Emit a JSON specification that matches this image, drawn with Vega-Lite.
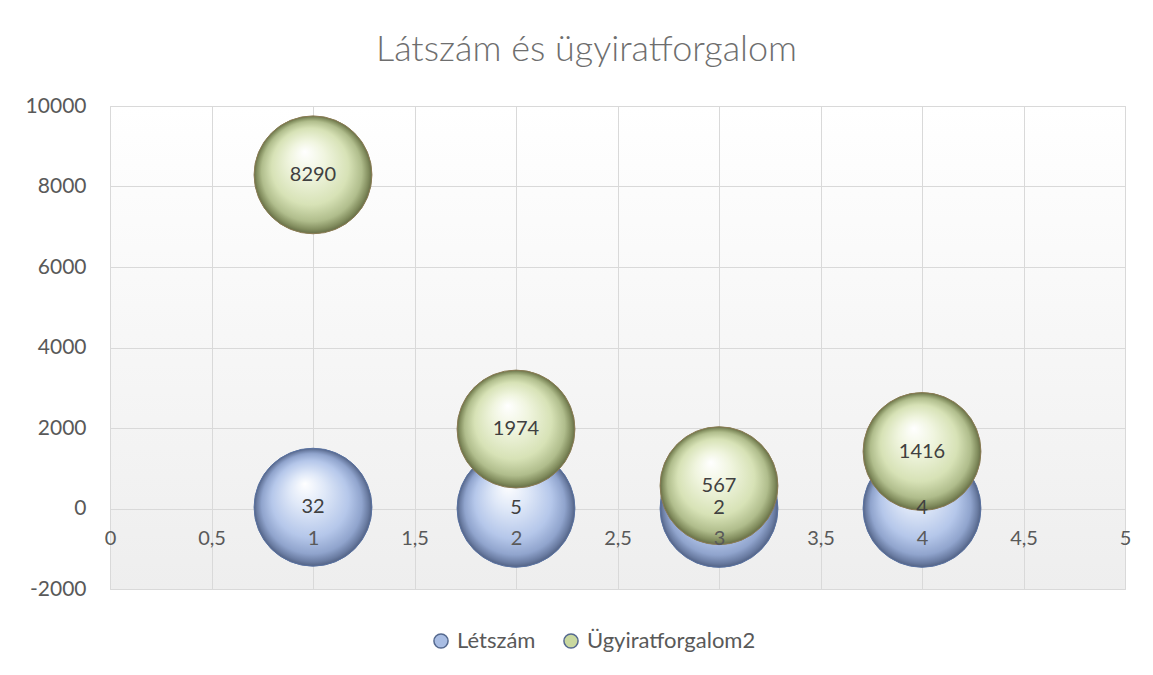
{
  "$schema": "https://vega.github.io/schema/vega-lite/v6.json",
  "width": 1015,
  "height": 483,
  "autosize": "none",
  "padding": {"left": 110, "top": 106, "right": 28, "bottom": 86},
  "background": "#ffffff",
  "title": {
    "text": "Látszám és ügyiratforgalom",
    "font": "Lato",
    "fontSize": 36,
    "fontWeight": 300,
    "color": "#6e6e6e",
    "anchor": "middle",
    "dx": -31,
    "offset": 26
  },
  "config": {
    "font": "Lato",
    "view": {
      "fill": {"gradient": "linear", "x1": 0, "y1": 0, "x2": 0, "y2": 1, "stops": [{"offset": 0, "color": "#ffffff"}, {"offset": 1, "color": "#eeeeee"}]},
      "stroke": "#d9d9d9"
    }
  },
  "data": {
    "values": [
      {"x": 1, "series": "Létszám", "value": 32},
      {"x": 2, "series": "Létszám", "value": 5},
      {"x": 3, "series": "Létszám", "value": 2},
      {"x": 4, "series": "Létszám", "value": 4},
      {"x": 1, "series": "Ügyiratforgalom2", "value": 8290},
      {"x": 2, "series": "Ügyiratforgalom2", "value": 1974},
      {"x": 3, "series": "Ügyiratforgalom2", "value": 567},
      {"x": 4, "series": "Ügyiratforgalom2", "value": 1416}
    ]
  },
  "resolve": {"axis": {"x": "independent"}},
  "layer": [
    {
      "mark": {"type": "circle", "size": 13900, "opacity": 1},
      "encoding": {
        "x": {"field": "x", "type": "quantitative", "scale": {"domain": [0, 5], "nice": false, "zero": false},
          "axis": {"orient": "top", "grid": true, "gridColor": "#d9d9d9", "labels": false, "ticks": false, "domain": false, "title": null, "values": [0, 0.5, 1, 1.5, 2, 2.5, 3, 3.5, 4, 4.5, 5]}},
        "y": {"field": "value", "type": "quantitative", "scale": {"domain": [-2000, 10000], "nice": false, "zero": false},
          "axis": {"title": null, "values": [-2000, 0, 2000, 4000, 6000, 8000, 10000], "labelExpr": "toString(datum.value)", "grid": true, "gridColor": "#d9d9d9", "domain": false, "ticks": false, "labelFontSize": 21, "labelColor": "#595959", "labelPadding": 24, "labelFont": "Lato"}},
        "color": {"field": "series", "type": "nominal",
          "scale": {"domain": ["Létszám", "Ügyiratforgalom2"], "range": ["#a9bde3", "#c9d89f"]},
          "legend": {"title": null, "orient": "none", "legendX": 320, "legendY": 524, "direction": "horizontal", "symbolType": "circle", "symbolSize": 200, "symbolStrokeWidth": 1.5, "symbolStrokeColor": "#55698f", "labelFontSize": 22, "labelColor": "#595959", "labelFont": "Lato", "labelLimit": 400, "columnPadding": 24, "labelOffset": 5}}
      }
    },
    {
      "transform": [{"filter": "datum.series === 'Létszám'"}],
      "mark": {"type": "circle", "size": 13900, "opacity": 1, "stroke": "#5a72a0", "strokeWidth": 1,
        "fill": {"gradient": "radial", "x1": 0.43, "y1": 0.3, "r1": 0, "x2": 0.5, "y2": 0.5, "r2": 0.5,
          "stops": [{"offset": 0, "color": "#ffffff"}, {"offset": 0.3, "color": "#dfe8f8"}, {"offset": 0.65, "color": "#b5c7ea"}, {"offset": 0.85, "color": "#90a4cd"}, {"offset": 0.95, "color": "#6a7ca2"}, {"offset": 1, "color": "#526284"}]}},
      "encoding": {
        "x": {"field": "x", "type": "quantitative", "axis": null},
        "y": {"field": "value", "type": "quantitative"}
      }
    },
    {
      "transform": [{"filter": "datum.series === 'Ügyiratforgalom2'"}],
      "mark": {"type": "circle", "size": 13900, "opacity": 1, "stroke": "#8b7b55", "strokeWidth": 1,
        "fill": {"gradient": "radial", "x1": 0.43, "y1": 0.3, "r1": 0, "x2": 0.5, "y2": 0.5, "r2": 0.5,
          "stops": [{"offset": 0, "color": "#ffffff"}, {"offset": 0.3, "color": "#f0f5df"}, {"offset": 0.65, "color": "#d7e2b6"}, {"offset": 0.85, "color": "#b0bd8c"}, {"offset": 0.95, "color": "#828d5e"}, {"offset": 1, "color": "#666e46"}]}},
      "encoding": {
        "x": {"field": "x", "type": "quantitative", "axis": null},
        "y": {"field": "value", "type": "quantitative"}
      }
    },
    {
      "mark": {"type": "text", "fontSize": 20, "color": "#404040", "font": "Lato", "baseline": "middle", "align": "center"},
      "encoding": {
        "x": {"field": "x", "type": "quantitative",
          "axis": {"orient": "bottom", "offset": -80.5, "zindex": 1, "grid": false, "ticks": false, "domain": false, "title": null, "values": [0, 0.5, 1, 1.5, 2, 2.5, 3, 3.5, 4, 4.5, 5], "labelExpr": "replace(toString(datum.value), '.', ',')", "labelFontSize": 20, "labelColor": "#595959", "labelFont": "Lato", "labelPadding": 20, "labelFlush": false}},
        "y": {"field": "value", "type": "quantitative"},
        "text": {"field": "value", "type": "quantitative", "format": "d"}
      }
    }
  ]
}
